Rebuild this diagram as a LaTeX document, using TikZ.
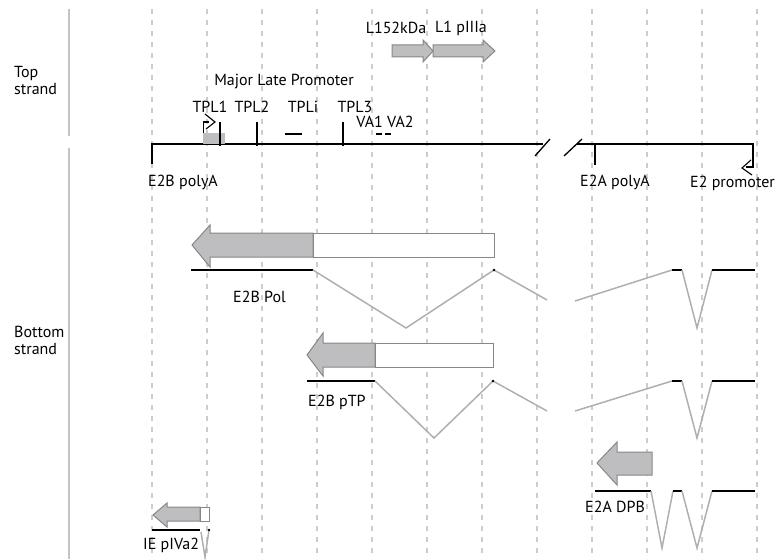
\documentclass[tikz,border=0pt]{standalone}
\usepackage{fontspec}
\setmainfont{PT Sans}
\usetikzlibrary{arrows.meta}
\definecolor{gridc}{RGB}{205,205,205}
\definecolor{barc}{RGB}{195,195,195}
\definecolor{fillg}{RGB}{190,190,193}
\definecolor{edgeg}{RGB}{135,135,135}
\definecolor{intronc}{RGB}{175,175,175}
\begin{document}
\begin{tikzpicture}[x=1pt,y=-1pt,
  gridline/.style={draw=gridc, line width=1.3pt, dash pattern=on 5pt off 6pt},
  sidebar/.style={draw=barc, line width=2pt},
  dna/.style={draw=black, line width=1.8pt},
  tick/.style={draw=black, line width=1.8pt},
  exon/.style={draw=black, line width=2pt},
  intronl/.style={draw=intronc, line width=1.5pt},
  cds/.style={draw=edgeg, fill=fillg, line width=1pt},
  utr/.style={draw=edgeg, fill=white, line width=1pt},
  lbl/.style={font=\fontsize{16}{17}\selectfont, inner sep=0pt, anchor=west, align=left},
  clbl/.style={font=\fontsize{16}{17}\selectfont, inner sep=0pt},
  prom/.style={draw=black, line width=1.1pt, line join=miter}
]
\useasboundingbox (0,0) rectangle (775,559);
% grid
\foreach \i in {0,...,11} \draw[gridline] ({152+55*\i},9) -- ({152+55*\i},559);
% side bars
\draw[sidebar] (69,9) -- (69,136);
\draw[sidebar] (69,148) -- (69,559);
\node[lbl] (top) at (14,80) {Top\\strand};
\node[lbl] (bot) at (14,340) {Bottom\\strand};

% top arrows
\draw[cds] (392,45) -- (423,45) -- (423,40) -- (433,51) -- (423,62) -- (423,57) -- (392,57) -- cycle;
\draw[cds] (433,45) -- (483,45) -- (483,40) -- (495,51) -- (483,62) -- (483,57) -- (433,57) -- cycle;
\node[clbl] (l152) at (396,28) {L152kDa};
\node[clbl] (l1) at (461,28) {L1 pIIIa};

% genome line
\coordinate (g0) at (152,144);
\coordinate (g1) at (543,144);
\coordinate (g2) at (577,144);
\coordinate (g3) at (754,144);
\draw[dna] (152,164) -- (g0) -- (g1);
\draw[dna] (g2) -- (g3);
\draw[line width=1.3pt] (535,156) -- (550,139);
\draw[line width=1.3pt] (564,156) -- (582,139);
% TPL region
\fill[fillg] (203,133) rectangle (225,144);
\draw[prom] (203.5,133) -- (203.5,122) -- (209,122);
\draw[prom] (205,114) -- (215,122) -- (206,129);
\draw[tick] (220,122) -- (220,146);
\draw[tick] (257,122) -- (257,146);
\draw[tick] (343,122) -- (343,146);
\draw[line width=1.8pt] (285,134) -- (302,134);
\draw[line width=1.6pt] (376,134) -- (382,134);
\draw[line width=1.6pt] (385,134) -- (391,134);
\node[clbl] (mlp) at (284,82) {Major Late Promoter};
\node[clbl] (tpl1) at (210,107) {TPL1};
\node[clbl] (tpl2) at (252,107) {TPL2};
\node[clbl] (tpli) at (303,107) {TPLi};
\node[clbl] (tpl3) at (355,107) {TPL3};
\node[clbl] (va) at (385,122) {VA1 VA2};
% E2A polyA and E2 promoter
\draw[tick] (595,144) -- (595,165);
\draw[prom] (753,144) -- (753,167) -- (746,167);
\draw[prom] (751,160) -- (742,168) -- (752,175);
\node[lbl] (e2bpa) at (148,182) {E2B polyA};
\node[lbl] (e2apa) at (580,182) {E2A polyA};
\node[lbl] (e2p) at (690,183) {E2 promoter};

% E2B Pol
\draw[cds] (192,245) -- (210,225) -- (210,233) -- (313,233) -- (313,257) -- (210,257) -- (210,267) -- cycle;
\draw[utr] (313,233) rectangle (494,257);
\coordinate (p0) at (191,270);
\coordinate (p1) at (313,270);
\coordinate (p2) at (406,328);
\coordinate (p3) at (494,270);
\coordinate (p4) at (547,300);
\coordinate (p5) at (575,301);
\coordinate (p6) at (672,270);
\coordinate (p7) at (682,270);
\coordinate (p8) at (697,328);
\coordinate (p9) at (712,270);
\coordinate (p10) at (755,270);
\draw[exon] (p0) -- (p1);
\draw[intronl] (p1) -- (p2) -- (p3) -- (p4);
\fill (p3) circle (1.3pt);
\draw[intronl] (p5) -- (p6);
\draw[exon] (p6) -- (p7);
\draw[intronl] (p7) -- (p8) -- (p9);
\draw[exon] (p9) -- (p10);
\node[lbl] (e2bpol) at (233,297) {E2B Pol};

% E2B pTP
\draw[cds] (307,355) -- (323,333) -- (323,343) -- (375,343) -- (375,367) -- (323,367) -- (323,376) -- cycle;
\draw[utr] (375,343) rectangle (493,367);
\coordinate (t0) at (307,381);
\coordinate (t1) at (375,381);
\coordinate (t2) at (434,438);
\coordinate (t3) at (493,381);
\coordinate (t4) at (547,411);
\coordinate (t5) at (575,411);
\coordinate (t6) at (672,381);
\coordinate (t7) at (682,381);
\coordinate (t8) at (697,438);
\coordinate (t9) at (712,381);
\coordinate (t10) at (755,381);
\draw[exon] (t0) -- (t1);
\draw[intronl] (t1) -- (t2) -- (t3) -- (t4);
\fill (t3) circle (1.3pt);
\draw[intronl] (t5) -- (t6);
\draw[exon] (t6) -- (t7);
\draw[intronl] (t7) -- (t8) -- (t9);
\draw[exon] (t9) -- (t10);
\node[lbl] (e2bptp) at (308,402) {E2B pTP};

% E2A DPB
\draw[cds] (597,463) -- (617,442) -- (617,452) -- (652,452) -- (652,475) -- (617,475) -- (617,485) -- cycle;
\coordinate (d0) at (595,491);
\coordinate (d1) at (651,491);
\coordinate (d2) at (662,548);
\coordinate (d3) at (673,491);
\coordinate (d4) at (682,491);
\coordinate (d5) at (697,548);
\coordinate (d6) at (712,491);
\coordinate (d7) at (755,491);
\draw[exon] (d0) -- (d1);
\draw[intronl] (d1) -- (d2) -- (d3);
\draw[exon] (d3) -- (d4);
\draw[intronl] (d4) -- (d5) -- (d6);
\draw[exon] (d6) -- (d7);
\node[lbl] (e2adpb) at (585,507) {E2A DPB};

% IE pIVa2
\draw[cds] (153,515) -- (167,503) -- (167,507) -- (200,507) -- (200,521) -- (167,521) -- (167,527) -- cycle;
\draw[utr] (200,507) rectangle (209,521);
\coordinate (v0) at (152,530);
\coordinate (v1) at (200,530);
\coordinate (v2) at (205,557);
\coordinate (v3) at (209,530);
\draw[exon] (v0) -- (v1);
\draw[intronl] (201,532) -- (v2) -- (v3);
\fill (v3) circle (1.3pt);
\node[lbl] (iep) at (143,545) {IE pIVa2};
\end{tikzpicture}
\end{document}
